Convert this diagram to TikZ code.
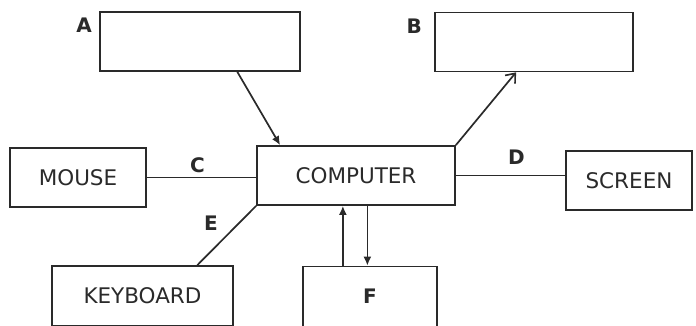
\documentclass[tikz,border=0pt]{standalone}
\usepackage{fontspec}
\setmainfont{DejaVu Sans}
\usepackage{tikz}
\usetikzlibrary{arrows.meta,positioning,calc}
\definecolor{InkGray}{HTML}{2A2A2A}

\begin{document}
\begin{tikzpicture}[
  x=1pt,y=-1pt,
  box/.style={draw=InkGray,line width=1.7pt,minimum height=59pt,inner sep=0pt,font=\fontsize{21.5}{21.5}\selectfont,text=InkGray},
  lbl/.style={font=\fontsize{20}{20}\selectfont\bfseries,text=InkGray,inner sep=2pt},
  link/.style={InkGray,line width=1.7pt},
  arr/.style={link,-{Latex[length=9pt,width=8pt]}},
  openarr/.style={link,-{Straight Barb[length=8pt,width=13pt]}}
]
  \useasboundingbox (0,0) rectangle (696,326);
  % the boxes
  \node[box,minimum width=198pt] (comp) at (356,175.5) {COMPUTER};
  \node[box,minimum width=200pt] (a) at (200,41.5) {};
  \node[box,minimum width=198pt] (b) at (534,42) {};
  \node[box,minimum width=136pt] (mouse) at (78,177.5) {MOUSE};
  \node[box,minimum width=126pt] (screen) at (629,180.5) {SCREEN};
  \node[box,minimum width=181pt,minimum height=60pt] (kbd) at (142.5,296) {KEYBOARD};
  \node[box,minimum width=134pt,minimum height=60pt,font=\fontsize{20}{20}\selectfont\bfseries] (f) at (370,296.5) {F};
  \node[lbl,left=5pt of a.north west,anchor=north east,yshift=-5pt] (la) {A};
  \node[lbl,left=10pt of b.north west,anchor=north east,yshift=-5pt] (lb) {B};
  % connectors
  \draw[arr] ($(a.south west)!0.685!(a.south east)$) -- ($(comp.north west)!0.12!(comp.north east)$);
  \draw[openarr] (comp.north east) -- ($(b.south west)!0.41!(b.south east)$);
  \draw[link] (mouse.east) -- (mouse.east -| comp.west) node[lbl,midway,above=2pt,xshift=-4pt] (lc) {C};
  \draw[link] (comp.east) -- (comp.east -| screen.west) node[lbl,midway,above=8pt,xshift=6pt] (ld) {D};
  \draw[link] ($(kbd.north west)!0.8!(kbd.north east)$) -- (comp.south west) node[lbl,midway,above left=3pt,xshift=-4pt] (le) {E};
  \draw[arr] ($(f.north west)!0.3!(f.north east)$) coordinate (fu) -- (fu |- comp.south);
  \draw[arr] ($(comp.south west)!0.557!(comp.south east)$) coordinate (cd) -- (cd |- f.north);
\end{tikzpicture}
\end{document}
